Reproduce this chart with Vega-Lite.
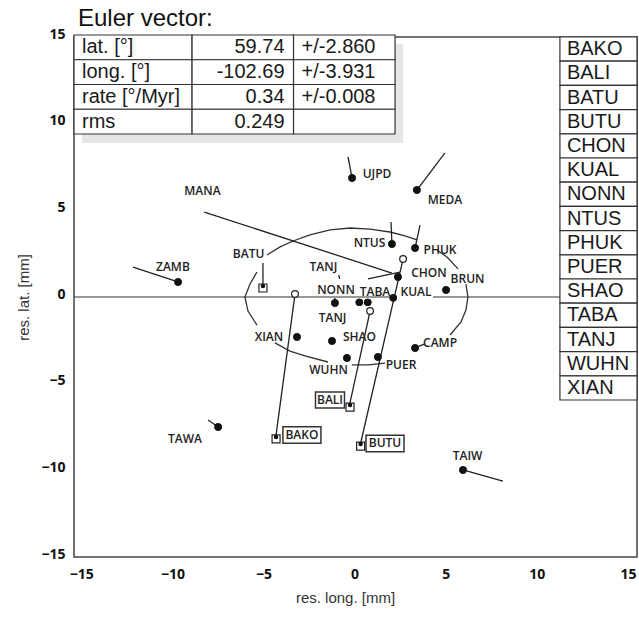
{
  "$schema": "https://vega.github.io/schema/vega-lite/v6.json",
  "width": 563,
  "height": 520,
  "autosize": {"type": "none"},
  "padding": {"left": 74, "top": 37, "right": 2, "bottom": 60},
  "title": {"text": "Euler vector:", "anchor": "start", "frame": "group", "font": "Liberation Sans", "fontSize": 24, "fontWeight": "normal", "color": "#111", "offset": -4, "dx": 4},
  "config": {"view": {"stroke": "#444", "strokeWidth": 1.5}, "font": "Liberation Sans"},
  "datasets": {
    "points": [
      {"station": "UJPD", "kind": "dot", "x": -0.14, "y": 6.87},
      {"station": "MEDA", "kind": "dot", "x": 3.42, "y": 6.17},
      {"station": "NTUS", "kind": "dot", "x": 2.05, "y": 3.06},
      {"station": "PHUK", "kind": "dot", "x": 3.32, "y": 2.83},
      {"station": "CHON", "kind": "dot", "x": 2.38, "y": 1.15},
      {"station": "KUAL", "kind": "dot", "x": 2.12, "y": -0.05},
      {"station": "TABA", "kind": "dot", "x": 0.26, "y": -0.31},
      {"station": "TABA", "kind": "dot", "x": 0.72, "y": -0.31},
      {"station": "NONN", "kind": "dot", "x": -1.08, "y": -0.35},
      {"station": "BRUN", "kind": "dot", "x": 5.02, "y": 0.4},
      {"station": "ZAMB", "kind": "dot", "x": -9.69, "y": 0.87},
      {"station": "XIAN", "kind": "dot", "x": -3.16, "y": -2.31},
      {"station": "SHAO", "kind": "dot", "x": -1.24, "y": -2.54},
      {"station": "WUHN", "kind": "dot", "x": -0.42, "y": -3.52},
      {"station": "PUER", "kind": "dot", "x": 1.28, "y": -3.46},
      {"station": "CAMP", "kind": "dot", "x": 3.32, "y": -2.94},
      {"station": "TAWA", "kind": "dot", "x": -7.49, "y": -7.5},
      {"station": "TAIW", "kind": "dot", "x": 5.95, "y": -9.98},
      {"station": "BAKO", "kind": "circle", "x": -3.27, "y": 0.17},
      {"station": "BALI", "kind": "circle", "x": 0.85, "y": -0.81},
      {"station": "BUTU", "kind": "circle", "x": 2.66, "y": 2.19},
      {"station": "BAKO", "kind": "square", "x": -4.31, "y": -8.19},
      {"station": "BALI", "kind": "square", "x": -0.25, "y": -6.35},
      {"station": "BUTU", "kind": "square", "x": 0.33, "y": -8.6},
      {"station": "BATU", "kind": "square", "x": -5.03, "y": 0.52}
    ],
    "vectors": [
      {"station": "UJPD", "x": -0.14, "y": 6.87, "x2": -0.36, "y2": 8.08},
      {"station": "MEDA", "x": 3.42, "y": 6.17, "x2": 4.96, "y2": 8.31},
      {"station": "NTUS", "x": 2.05, "y": 3.06, "x2": 2.0, "y2": 4.33},
      {"station": "PHUK", "x": 3.32, "y": 2.83, "x2": 3.59, "y2": 4.15},
      {"station": "ZAMB", "x": -9.69, "y": 0.87, "x2": -12.16, "y2": 1.73},
      {"station": "TAWA", "x": -7.49, "y": -7.5, "x2": -8.04, "y2": -7.1},
      {"station": "TAIW", "x": 5.95, "y": -9.98, "x2": 8.14, "y2": -10.62},
      {"station": "CAMP", "x": 3.32, "y": -2.94, "x2": 3.86, "y2": -2.71},
      {"station": "MANA", "x": -8.25, "y": 4.9, "x2": 2.05, "y2": 1.38},
      {"station": "BATU", "x": -5.03, "y": 0.52, "x2": -5.03, "y2": 1.96},
      {"station": "BAKO", "x": -3.27, "y": 0.17, "x2": -4.31, "y2": -7.95},
      {"station": "BALI", "x": 0.85, "y": -0.81, "x2": -0.25, "y2": -6.1},
      {"station": "BUTU", "x": 2.66, "y": 2.19, "x2": 0.35, "y2": -8.35},
      {"station": "CHON", "x": 0.74, "y": 1.04, "x2": 2.49, "y2": 1.44},
      {"station": "TANJ", "x": -0.87, "y": 1.27, "x2": -0.82, "y2": 1.04},
      {"station": "NONN", "x": -1.08, "y": -0.35, "x2": -1.08, "y2": -0.06}
    ],
    "labels": [
      {"label": "UJPD", "x": 1.23, "y": 7.1},
      {"label": "MEDA", "x": 4.96, "y": 5.6},
      {"label": "NTUS", "x": 0.82, "y": 3.12},
      {"label": "PHUK", "x": 4.69, "y": 2.71},
      {"label": "CHON", "x": 4.08, "y": 1.38},
      {"label": "BRUN", "x": 6.2, "y": 1.04},
      {"label": "KUAL", "x": 3.37, "y": 0.29},
      {"label": "TABA", "x": 1.12, "y": 0.29},
      {"label": "NONN", "x": -1.02, "y": 0.4},
      {"label": "TANJ", "x": -1.71, "y": 1.73},
      {"label": "TANJ", "x": -1.21, "y": -1.21},
      {"label": "MANA", "x": -8.35, "y": 6.12},
      {"label": "BATU", "x": -5.82, "y": 2.48},
      {"label": "ZAMB", "x": -9.97, "y": 1.73},
      {"label": "XIAN", "x": -4.7, "y": -2.31},
      {"label": "SHAO", "x": 0.27, "y": -2.31},
      {"label": "WUHN", "x": -1.43, "y": -4.21},
      {"label": "PUER", "x": 2.55, "y": -3.92},
      {"label": "CAMP", "x": 4.69, "y": -2.65},
      {"label": "TAWA", "x": -9.31, "y": -8.19},
      {"label": "TAIW", "x": 6.2, "y": -9.17},
      {"label": "BAKO", "x": -2.89, "y": -7.96},
      {"label": "BALI", "x": -1.35, "y": -5.94},
      {"label": "BUTU", "x": 1.67, "y": -8.45}
    ],
    "ellipse": [
      {"seg": 1, "i": 1, "x": -5.36, "y": 1.44},
      {"seg": 1, "i": 2, "x": -5.74, "y": 0.75},
      {"seg": 1, "i": 3, "x": -6.02, "y": 0.0},
      {"seg": 1, "i": 4, "x": -5.85, "y": -0.81},
      {"seg": 1, "i": 5, "x": -5.36, "y": -1.62},
      {"seg": 2, "i": 1, "x": -4.81, "y": 2.42},
      {"seg": 2, "i": 2, "x": -4.09, "y": 2.89},
      {"seg": 2, "i": 3, "x": -3.38, "y": 3.23},
      {"seg": 2, "i": 4, "x": -2.45, "y": 3.58},
      {"seg": 2, "i": 5, "x": -1.35, "y": 3.87},
      {"seg": 2, "i": 6, "x": -0.25, "y": 3.98},
      {"seg": 2, "i": 7, "x": 0.85, "y": 3.92},
      {"seg": 2, "i": 8, "x": 1.94, "y": 3.75},
      {"seg": 2, "i": 9, "x": 2.77, "y": 3.52},
      {"seg": 2, "i": 10, "x": 3.42, "y": 3.29},
      {"seg": 3, "i": 1, "x": 4.52, "y": 2.71},
      {"seg": 3, "i": 2, "x": 5.07, "y": 2.31},
      {"seg": 3, "i": 3, "x": 5.68, "y": 1.62},
      {"seg": 4, "i": 1, "x": 6.11, "y": 0.75},
      {"seg": 4, "i": 2, "x": 6.22, "y": 0.0},
      {"seg": 4, "i": 3, "x": 6.11, "y": -0.75},
      {"seg": 4, "i": 4, "x": 5.84, "y": -1.44},
      {"seg": 4, "i": 5, "x": 5.24, "y": -2.19},
      {"seg": 5, "i": 1, "x": -0.14, "y": -3.92},
      {"seg": 5, "i": 2, "x": 0.74, "y": -3.92},
      {"seg": 5, "i": 3, "x": 1.67, "y": -3.81},
      {"seg": 6, "i": 1, "x": -4.37, "y": -2.65},
      {"seg": 6, "i": 2, "x": -3.55, "y": -3.12},
      {"seg": 6, "i": 3, "x": -2.72, "y": -3.4},
      {"seg": 6, "i": 4, "x": -1.46, "y": -3.75}
    ],
    "stationList": [
      {"name": "BAKO"}, {"name": "BALI"}, {"name": "BATU"}, {"name": "BUTU"}, {"name": "CHON"},
      {"name": "KUAL"}, {"name": "NONN"}, {"name": "NTUS"}, {"name": "PHUK"}, {"name": "PUER"},
      {"name": "SHAO"}, {"name": "TABA"}, {"name": "TANJ"}, {"name": "WUHN"}, {"name": "XIAN"}
    ],
    "euler": [
      {"param": "lat. [°]", "value": "59.74", "error": "+/-2.860"},
      {"param": "long. [°]", "value": "-102.69", "error": "+/-3.931"},
      {"param": "rate [°/Myr]", "value": "0.34", "error": "+/-0.008"},
      {"param": "rms", "value": "0.249", "error": ""}
    ]
  },
  "layer": [
    {
      "layer": [
        {
          "data": {"name": "points"},
          "transform": [{"filter": "datum.kind === 'dot'"}],
          "mark": {"type": "point", "shape": "circle", "filled": true, "color": "#111", "size": 55, "opacity": 1},
          "encoding": {
            "x": {"field": "x", "type": "quantitative", "scale": {"domain": [-15.4, 15.5], "nice": false, "zero": false},
              "axis": {"title": "res. long. [mm]", "values": [-15, -10, -5, 0, 5, 10, 15], "ticks": false, "domain": false, "grid": false, "labelFlush": false, "labelOverlap": false,
                "labelFont": "Open Sans", "labelFontWeight": "bold", "labelFontSize": 14, "labelColor": "#111", "labelPadding": 10,
                "titleFont": "Liberation Sans", "titleFontSize": 15, "titleFontWeight": "normal", "titleColor": "#333", "titlePadding": 9, "titleX": 271}},
            "y": {"field": "y", "type": "quantitative", "scale": {"domain": [-15, 15], "nice": false, "zero": false},
              "axis": {"title": "res. lat. [mm]", "values": [-15, -10, -5, 0, 5, 10, 15], "ticks": false, "domain": false, "grid": false, "labelFlush": false, "labelOverlap": false,
                "labelFont": "Open Sans", "labelFontWeight": "bold", "labelFontSize": 14, "labelColor": "#111", "labelPadding": 9, "labelOffset": -3,
                "titleFont": "Liberation Sans", "titleFontSize": 15, "titleFontWeight": "normal", "titleColor": "#333", "titlePadding": 9}}
          }
        },
        {
          "data": {"values": [{"ref": "zero"}]},
          "mark": {"type": "rule", "color": "#333", "strokeWidth": 1.2},
          "encoding": {"x": {"datum": -15.4}, "x2": {"datum": 2.1}, "y": {"datum": 0}}
        },
        {
          "data": {"values": [{"ref": "zero"}]},
          "mark": {"type": "rule", "color": "#333", "strokeWidth": 1.2},
          "encoding": {"x": {"datum": 4.3}, "x2": {"datum": 11.27}, "y": {"datum": 0}}
        },
        {
          "data": {"name": "ellipse"},
          "mark": {"type": "line", "color": "#333", "strokeWidth": 1.3},
          "encoding": {
            "x": {"field": "x", "type": "quantitative"},
            "y": {"field": "y", "type": "quantitative"},
            "detail": {"field": "seg", "type": "nominal"},
            "order": {"field": "i", "type": "quantitative"}
          }
        },
        {
          "data": {"name": "vectors"},
          "mark": {"type": "rule", "color": "#222", "strokeWidth": 1.3},
          "encoding": {
            "x": {"field": "x", "type": "quantitative"},
            "y": {"field": "y", "type": "quantitative"},
            "x2": {"field": "x2"},
            "y2": {"field": "y2"}
          }
        },
        {
          "data": {"name": "points"},
          "transform": [{"filter": "datum.kind === 'dot'"}],
          "mark": {"type": "point", "shape": "circle", "filled": true, "color": "#111", "size": 55, "opacity": 1},
          "encoding": {"x": {"field": "x", "type": "quantitative"}, "y": {"field": "y", "type": "quantitative"}}
        },
        {
          "data": {"name": "points"},
          "transform": [{"filter": "datum.kind === 'circle'"}],
          "mark": {"type": "point", "shape": "circle", "fill": "white", "stroke": "#222", "strokeWidth": 1.2, "size": 45, "opacity": 1, "fillOpacity": 1},
          "encoding": {"x": {"field": "x", "type": "quantitative"}, "y": {"field": "y", "type": "quantitative"}}
        },
        {
          "data": {"name": "points"},
          "transform": [{"filter": "datum.kind === 'square'"}],
          "mark": {"type": "point", "shape": "square", "fill": "white", "stroke": "#222", "strokeWidth": 1.2, "size": 64, "opacity": 1, "fillOpacity": 1},
          "encoding": {"x": {"field": "x", "type": "quantitative"}, "y": {"field": "y", "type": "quantitative"}}
        },
        {
          "data": {"name": "points"},
          "transform": [{"filter": "datum.kind === 'square'"}],
          "mark": {"type": "point", "shape": "circle", "filled": true, "color": "#111", "size": 20, "opacity": 1, "yOffset": -2},
          "encoding": {"x": {"field": "x", "type": "quantitative"}, "y": {"field": "y", "type": "quantitative"}}
        },
        {
          "data": {"name": "labels"},
          "mark": {"type": "text", "font": "Open Sans", "fontSize": 12, "fontWeight": 600, "color": "#222", "align": "center", "baseline": "middle"},
          "encoding": {"x": {"field": "x", "type": "quantitative"}, "y": {"field": "y", "type": "quantitative"}, "text": {"field": "label"}}
        },
        {
          "data": {"name": "labels"},
          "transform": [{"filter": "datum.label === 'BAKO' || datum.label === 'BUTU'"}],
          "mark": {"type": "point", "shape": "M-1,-0.43H1V0.43H-1Z", "filled": false, "stroke": "#333", "strokeWidth": 1.5, "size": 1444, "opacity": 1},
          "encoding": {"x": {"field": "x", "type": "quantitative"}, "y": {"field": "y", "type": "quantitative"}}
        },
        {
          "data": {"name": "labels"},
          "transform": [{"filter": "datum.label === 'BALI'"}],
          "mark": {"type": "point", "shape": "M-1,-0.55H1V0.55H-1Z", "filled": false, "stroke": "#333", "strokeWidth": 1.5, "size": 841, "opacity": 1},
          "encoding": {"x": {"field": "x", "type": "quantitative"}, "y": {"field": "y", "type": "quantitative"}}
        }
      ]
    },
    {
      "data": {"name": "stationList"},
      "layer": [
        {
          "mark": {"type": "rect", "fill": "white", "stroke": "#333", "strokeWidth": 1.2},
          "encoding": {
            "y": {"field": "name", "type": "nominal", "sort": null, "scale": {"type": "band", "range": [0, 363], "paddingInner": 0, "paddingOuter": 0}, "axis": null},
            "x": {"datum": 11.27},
            "x2": {"datum": 15.5}
          }
        },
        {
          "mark": {"type": "text", "align": "left", "baseline": "middle", "dx": 7, "font": "Liberation Sans", "fontSize": 20, "color": "#1a1a1a"},
          "encoding": {
            "y": {"field": "name", "type": "nominal", "sort": null, "axis": null},
            "x": {"datum": 11.27},
            "text": {"field": "name"}
          }
        }
      ]
    },
    {
      "data": {"name": "euler"},
      "layer": [
        {
          "mark": {"type": "rect", "fill": "#e6e6e6", "xOffset": 8, "x2Offset": 8, "yOffset": 9, "y2Offset": 9},
          "encoding": {
            "y": {"field": "param", "type": "nominal", "sort": null, "scale": {"type": "band", "range": [-2, 97], "paddingInner": 0, "paddingOuter": 0}, "axis": null},
            "x": {"datum": -15.4}, "x2": {"datum": 2.22}
          }
        },
        {
          "mark": {"type": "rect", "fill": "white", "stroke": "#333", "strokeWidth": 1.2},
          "encoding": {"y": {"field": "param", "type": "nominal", "sort": null, "axis": null}, "x": {"datum": -15.4}, "x2": {"datum": -8.92}}
        },
        {
          "mark": {"type": "rect", "fill": "white", "stroke": "#333", "strokeWidth": 1.2},
          "encoding": {"y": {"field": "param", "type": "nominal", "sort": null, "axis": null}, "x": {"datum": -8.92}, "x2": {"datum": -3.35}}
        },
        {
          "mark": {"type": "rect", "fill": "white", "stroke": "#333", "strokeWidth": 1.2},
          "encoding": {"y": {"field": "param", "type": "nominal", "sort": null, "axis": null}, "x": {"datum": -3.35}, "x2": {"datum": 2.22}}
        },
        {
          "mark": {"type": "text", "align": "left", "baseline": "middle", "dx": 8, "font": "Liberation Sans", "fontSize": 20, "color": "#1a1a1a"},
          "encoding": {"y": {"field": "param", "type": "nominal", "sort": null, "axis": null}, "x": {"datum": -15.4}, "text": {"field": "param"}}
        },
        {
          "mark": {"type": "text", "align": "right", "baseline": "middle", "dx": -9, "font": "Liberation Sans", "fontSize": 20, "color": "#1a1a1a"},
          "encoding": {"y": {"field": "param", "type": "nominal", "sort": null, "axis": null}, "x": {"datum": -3.35}, "text": {"field": "value"}}
        },
        {
          "mark": {"type": "text", "align": "left", "baseline": "middle", "dx": 8, "font": "Liberation Sans", "fontSize": 20, "color": "#1a1a1a"},
          "encoding": {"y": {"field": "param", "type": "nominal", "sort": null, "axis": null}, "x": {"datum": -3.35}, "text": {"field": "error"}}
        }
      ]
    }
  ],
  "resolve": {"scale": {"y": "independent"}}
}
